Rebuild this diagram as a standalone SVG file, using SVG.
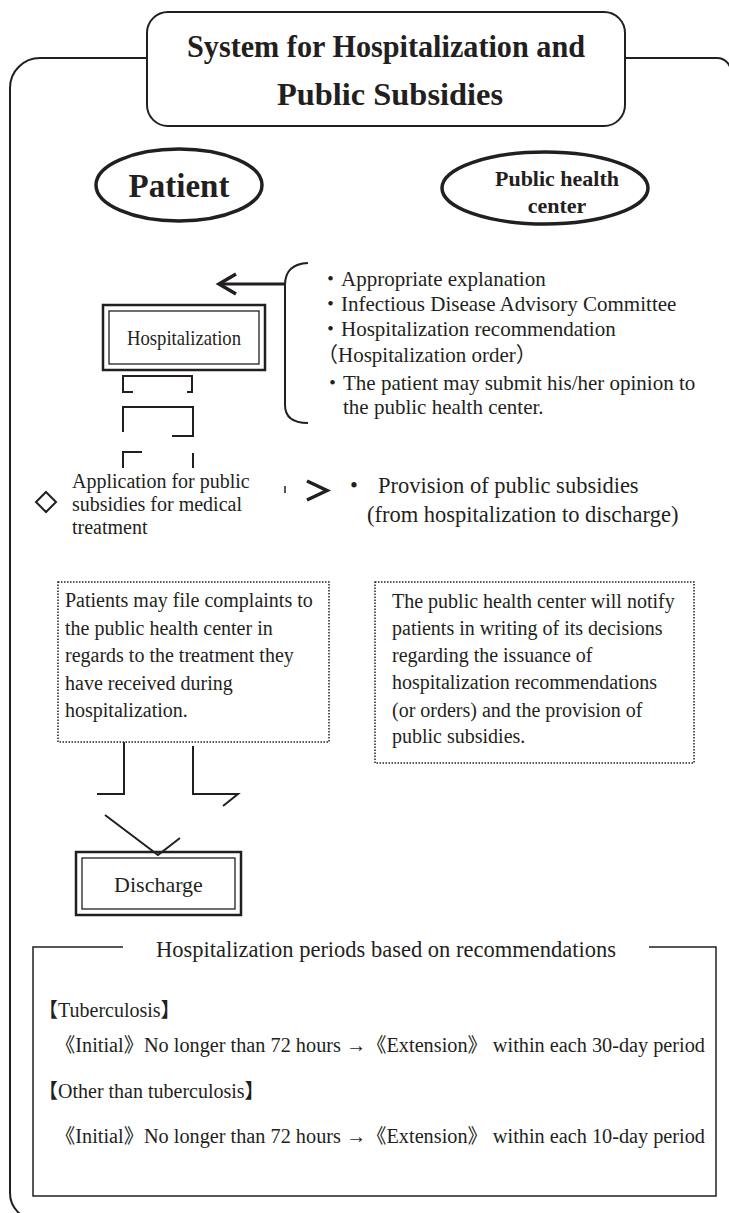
<svg xmlns="http://www.w3.org/2000/svg" width="729" height="1213" viewBox="0 0 729 1213">
<style>
text { font-family: 'Liberation Serif', 'Noto Sans CJK JP', serif; fill: #231f20; }
.b { font-weight: bold; }
.s { fill: none; stroke: #231f20; stroke-width: 2; }
.thick { fill: none; stroke: #231f20; stroke-width: 3.5; }
.dot { fill: none; stroke: #231f20; stroke-width: 1.5; stroke-dasharray: 1.5 1.5; }
.f20 { font-size: 20px; }
.f21 { font-size: 21px; }
.f22 { font-size: 22px; }
.f23 { font-size: 22.5px; }
.mid { text-anchor: middle; }
.outer { fill: #fff; stroke: #231f20; stroke-width: 2.5; }
.inner { fill: none; stroke: #231f20; stroke-width: 1.3; }
</style>
<rect width="729" height="1213" fill="#fff"/>

<g id="frame">
<path class="s" d="M40,58 H717 A14,14 0 0 1 731,72 V1220 H37 A27,27 0 0 1 10,1193 V88 A30,30 0 0 1 40,58 Z"/>
</g>

<g id="title">
<rect x="147" y="12" width="478" height="114" rx="21" fill="#fff" stroke="#231f20" stroke-width="2"/>
<text class="b mid" x="386" y="57" font-size="32" textLength="398" lengthAdjust="spacingAndGlyphs">System for Hospitalization and</text>
<text class="b mid" x="390" y="105" font-size="32" textLength="226" lengthAdjust="spacingAndGlyphs">Public Subsidies</text>
</g>

<g id="patient">
<ellipse class="thick" cx="179" cy="185" rx="83" ry="36"/>
<text class="b mid" x="179" y="197" font-size="33">Patient</text>
</g>

<g id="public-health-center">
<ellipse class="thick" cx="545" cy="188" rx="103" ry="36"/>
<text class="b mid f22" x="557" y="186">Public health</text>
<text class="b mid f22" x="557" y="213">center</text>
</g>

<g id="hospitalization">
<rect class="outer" x="103" y="305" width="162" height="65"/>
<rect class="inner" x="109" y="311" width="150" height="53"/>
<text class="mid" x="184" y="345" font-size="21.5" textLength="114" lengthAdjust="spacingAndGlyphs">Hospitalization</text>
</g>

<g id="measures">
<path class="s" d="M308,263 Q285,264 285,285 V405 Q285,423 308,423"/>
<text class="f21" x="320" y="286">・Appropriate explanation</text>
<text class="f21" x="320" y="311">・Infectious Disease Advisory Committee</text>
<text class="f21" x="320" y="336">・Hospitalization recommendation</text>
<text class="f21" x="317" y="362">（Hospitalization order）</text>
<text class="f21" x="322" y="390">・The patient may submit his/her opinion to</text>
<text class="f21" x="343" y="414">the public health center.</text>
</g>

<g id="application">
<polygon class="s" points="46,492 56,502 46,512 36,502"/>
<text class="f20" x="72" y="488">Application for public</text>
<text class="f20" x="72" y="511">subsidies for medical</text>
<text class="f20" x="72" y="534">treatment</text>
</g>

<g id="subsidies">
<text class="f23" x="350" y="493">•</text>
<text class="f23" x="378" y="493">Provision of public subsidies</text>
<text class="f23" x="367" y="522">(from hospitalization to discharge)</text>
</g>

<g id="complaints">
<rect class="dot" x="58" y="582" width="271" height="160"/>
<text class="f20" x="65" y="607">Patients may file complaints to</text>
<text class="f20" x="65" y="635">the public health center in</text>
<text class="f20" x="65" y="662">regards to the treatment they</text>
<text class="f20" x="65" y="690">have received during</text>
<text class="f20" x="65" y="717">hospitalization.</text>
</g>

<g id="notification">
<rect class="dot" x="375" y="582" width="319" height="181"/>
<text class="f20" x="392" y="608">The public health center will notify</text>
<text class="f20" x="392" y="635">patients in writing of its decisions</text>
<text class="f20" x="392" y="662">regarding the issuance of</text>
<text class="f20" x="392" y="689">hospitalization recommendations</text>
<text class="f20" x="392" y="717">(or orders) and the provision of</text>
<text class="f20" x="392" y="743">public subsidies.</text>
</g>

<g id="discharge">
<rect class="outer" x="76" y="852" width="165" height="63"/>
<rect class="inner" x="82" y="858" width="153" height="51"/>
<text class="mid f22" x="158.5" y="892">Discharge</text>
</g>

<g id="periods">
<path fill="none" stroke="#231f20" stroke-width="1.5" d="M123,947 H33 V1196 H716 V947 H649"/>
<text class="mid f23" x="386" y="957">Hospitalization periods based on recommendations</text>
<text class="f20" x="38" y="1017">【Tuberculosis】</text>
<text class="f20" x="55" y="1052" textLength="650" lengthAdjust="spacingAndGlyphs">《Initial》No longer than 72 hours →《Extension》 within each 30-day period</text>
<text class="f20" x="38" y="1098">【Other than tuberculosis】</text>
<text class="f20" x="55" y="1143" textLength="650" lengthAdjust="spacingAndGlyphs">《Initial》No longer than 72 hours →《Extension》 within each 10-day period</text>
</g>

<g id="connectors">
<path fill="none" stroke="#231f20" stroke-width="3" d="M285,284 H222"/>
<path class="thick" d="M236,274 L219,284 L236,294"/>
<path class="s" d="M133,392 H123 V376 H192 V392 H187"/>
<path class="s" d="M123,432 V407 H193 V436 H172"/>
<path class="s" d="M142,452 H123 V468 M193,453 V468"/>
<path fill="none" stroke="#231f20" stroke-width="1.5" d="M285,486 V493"/>
<path class="thick" d="M307,481 L327,490.5 L307,500"/>
<path class="s" d="M124,742 V794 H97 M193,746 V794 H238 L223,806"/>
<path class="s" d="M105,815 L158,855 L180,838"/>
</g>
</svg>
